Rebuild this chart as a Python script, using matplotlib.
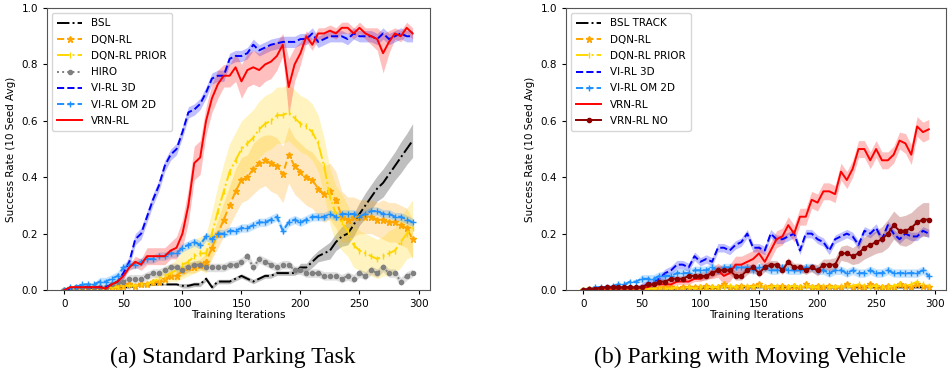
import matplotlib
matplotlib.use('Agg')
import matplotlib.pyplot as plt
import numpy as np

iters = np.arange(0, 300, 5)

# ---------------- (a) Standard Parking Task ----------------
a_bsl = [0.0, 0.005, 0.01, 0.01, 0.01, 0.005, 0.01, 0.01, 0.01, 0.01, 0.01, 0.01, 0.015, 0.015, 0.02, 0.02,
         0.02, 0.02, 0.02, 0.02, 0.015, 0.015, 0.02, 0.02, 0.04, 0.01, 0.03, 0.03, 0.03, 0.04,
         0.05, 0.04, 0.03, 0.04, 0.05, 0.05, 0.06, 0.06, 0.06, 0.06, 0.08, 0.08, 0.1, 0.12,
         0.13, 0.14, 0.17, 0.19, 0.2, 0.23, 0.27, 0.3, 0.33, 0.36, 0.38, 0.41, 0.44, 0.47, 0.5, 0.53]
a_bsl_sd = [0.003] * 20 + [0.008] * 20 + [0.015, 0.015, 0.02, 0.02, 0.025, 0.03, 0.03, 0.035, 0.04, 0.04,
                                          0.04, 0.045, 0.045, 0.045, 0.05, 0.05, 0.05, 0.055, 0.055, 0.06]
a_dqn = [0.0, 0.005, 0.005, 0.01, 0.01, 0.01, 0.01, 0.01, 0.015, 0.015, 0.015, 0.02, 0.015, 0.02, 0.02, 0.03,
         0.03, 0.04, 0.05, 0.05, 0.07, 0.08, 0.08, 0.09, 0.1, 0.15, 0.2, 0.25, 0.3, 0.35,
         0.39, 0.4, 0.43, 0.45, 0.46, 0.45, 0.44, 0.41, 0.48, 0.44, 0.42, 0.4, 0.39, 0.36,
         0.34, 0.35, 0.32, 0.26, 0.25, 0.26, 0.26, 0.26, 0.26, 0.25, 0.25, 0.24, 0.24, 0.23, 0.22, 0.18]
a_dqn_sd = [0.005] * 18 + [0.01, 0.015, 0.02, 0.02, 0.02, 0.02, 0.03, 0.04, 0.05, 0.06, 0.07, 0.08,
                           0.08, 0.08, 0.09, 0.09, 0.09, 0.1, 0.1, 0.1, 0.1, 0.1, 0.1, 0.1, 0.1, 0.1,
                           0.1, 0.1, 0.1, 0.09, 0.08, 0.07, 0.06, 0.06, 0.06, 0.06, 0.07, 0.07, 0.07, 0.07,
                           0.07, 0.07]
a_prior = [0.0, 0.005, 0.005, 0.005, 0.01, 0.01, 0.01, 0.01, 0.01, 0.01, 0.015, 0.015, 0.015, 0.02, 0.02, 0.03,
           0.04, 0.05, 0.06, 0.07, 0.09, 0.1, 0.12, 0.13, 0.13, 0.2, 0.28, 0.35, 0.42, 0.46,
           0.5, 0.52, 0.54, 0.57, 0.59, 0.6, 0.62, 0.62, 0.63, 0.61, 0.59, 0.58, 0.56, 0.52,
           0.44, 0.33, 0.27, 0.24, 0.21, 0.16, 0.14, 0.13, 0.12, 0.11, 0.12, 0.13, 0.14, 0.17, 0.2, 0.22]
a_prior_sd = [0.005] * 14 + [0.01, 0.015, 0.02, 0.03, 0.03, 0.04, 0.05, 0.05, 0.06, 0.06, 0.07, 0.08, 0.09,
                             0.1, 0.1, 0.1, 0.1, 0.1, 0.1, 0.1, 0.1, 0.1, 0.1, 0.1, 0.1, 0.1, 0.1, 0.1,
                             0.1, 0.1, 0.1, 0.1, 0.1, 0.1, 0.09, 0.08, 0.07, 0.07, 0.07, 0.07, 0.07, 0.08,
                             0.08, 0.09, 0.09, 0.1]
a_hiro = [0.0, 0.005, 0.01, 0.01, 0.01, 0.01, 0.01, 0.01, 0.02, 0.03, 0.03, 0.04, 0.04, 0.04, 0.05, 0.06,
          0.06, 0.07, 0.08, 0.08, 0.07, 0.08, 0.09, 0.09, 0.08, 0.08, 0.08, 0.08, 0.09, 0.09,
          0.1, 0.12, 0.08, 0.11, 0.1, 0.09, 0.08, 0.09, 0.09, 0.07, 0.07, 0.06, 0.06, 0.06,
          0.05, 0.05, 0.05, 0.04, 0.05, 0.04, 0.06, 0.05, 0.07, 0.06, 0.08, 0.06, 0.06, 0.03, 0.05, 0.06]
a_hiro_sd = [0.005] * 8 + [0.015] * 52
a_vi3d = [0.0, 0.005, 0.01, 0.01, 0.01, 0.01, 0.01, 0.01, 0.02, 0.03, 0.06, 0.1, 0.18, 0.2, 0.26, 0.32,
          0.37, 0.44, 0.48, 0.5, 0.56, 0.63, 0.64, 0.66, 0.7, 0.75, 0.76, 0.76, 0.82, 0.83,
          0.83, 0.84, 0.87, 0.85, 0.86, 0.87, 0.875, 0.88, 0.88, 0.88, 0.89, 0.89, 0.91, 0.88,
          0.89, 0.9, 0.9, 0.9, 0.89, 0.91, 0.9, 0.9, 0.9, 0.89, 0.91, 0.89, 0.9, 0.91, 0.9, 0.9]
a_vi3d_sd = [0.005] * 10 + [0.02] * 50
a_om2d = [0.0, 0.01, 0.01, 0.02, 0.02, 0.02, 0.03, 0.03, 0.04, 0.05, 0.08, 0.09, 0.09, 0.1, 0.11, 0.11,
          0.12, 0.12, 0.13, 0.13, 0.15, 0.16, 0.17, 0.16, 0.19, 0.18, 0.2, 0.2, 0.21, 0.21,
          0.22, 0.22, 0.23, 0.24, 0.24, 0.25, 0.26, 0.21, 0.24, 0.25, 0.24, 0.25, 0.26, 0.26,
          0.26, 0.27, 0.26, 0.27, 0.27, 0.27, 0.26, 0.27, 0.28, 0.28, 0.27, 0.27, 0.26, 0.26, 0.25, 0.24]
a_om2d_sd = [0.005] * 6 + [0.015] * 54
a_vrn = [0.0, 0.01, 0.01, 0.01, 0.01, 0.01, 0.01, 0.005, 0.02, 0.03, 0.05, 0.08, 0.1, 0.09, 0.12, 0.12,
         0.12, 0.12, 0.14, 0.15, 0.2, 0.3, 0.45, 0.47, 0.6, 0.68, 0.73, 0.76, 0.76, 0.79,
         0.74, 0.78, 0.79, 0.78, 0.8, 0.81, 0.83, 0.87, 0.72, 0.8, 0.84, 0.9, 0.87, 0.91,
         0.91, 0.92, 0.91, 0.93, 0.93, 0.91, 0.93, 0.91, 0.9, 0.89, 0.84, 0.88, 0.91, 0.9, 0.93, 0.91]
a_vrn_sd = [0.005] * 10 + [0.01, 0.01, 0.02, 0.02, 0.03, 0.03, 0.03, 0.03, 0.03, 0.04, 0.05, 0.06, 0.06,
                           0.06, 0.05, 0.05, 0.05, 0.04, 0.04, 0.05, 0.06, 0.06, 0.06, 0.06, 0.06, 0.06,
                           0.05, 0.04, 0.1, 0.06, 0.04, 0.02, 0.02, 0.02, 0.02, 0.02, 0.02, 0.02, 0.02,
                           0.02, 0.02, 0.02, 0.03, 0.04, 0.07, 0.04, 0.02, 0.02, 0.02, 0.02]

# ---------------- (b) Parking with Moving Vehicle ----------------
b_bsl = [0.0, 0.005, 0.005, 0.005, 0.005, 0.005, 0.005, 0.005, 0.005, 0.005, 0.005, 0.005, 0.005, 0.005, 0.005, 0.005,
         0.005, 0.005, 0.005, 0.005, 0.008, 0.008, 0.008, 0.01, 0.01, 0.01, 0.01, 0.01, 0.01, 0.01,
         0.01, 0.01, 0.01, 0.01, 0.01, 0.01, 0.01, 0.01, 0.01, 0.01, 0.01, 0.01, 0.01, 0.01,
         0.01, 0.01, 0.01, 0.01, 0.01, 0.01, 0.01, 0.01, 0.01, 0.01, 0.01, 0.01, 0.01, 0.01, 0.01, 0.01]
b_dqn = [0.0, 0.005, 0.005, 0.005, 0.005, 0.005, 0.005, 0.005, 0.005, 0.005, 0.005, 0.005, 0.005, 0.008, 0.01, 0.01,
         0.005, 0.01, 0.01, 0.01, 0.01, 0.015, 0.01, 0.01, 0.02, 0.01, 0.01, 0.015, 0.01, 0.015,
         0.02, 0.01, 0.015, 0.01, 0.015, 0.01, 0.015, 0.01, 0.02, 0.01, 0.015, 0.01, 0.015, 0.01,
         0.01, 0.02, 0.01, 0.015, 0.01, 0.02, 0.015, 0.01, 0.015, 0.01, 0.02, 0.015, 0.01, 0.02, 0.015, 0.01]
b_prior = [0.0, 0.005, 0.005, 0.005, 0.005, 0.005, 0.005, 0.005, 0.005, 0.005, 0.005, 0.005, 0.005, 0.005, 0.005, 0.005,
           0.01, 0.005, 0.01, 0.005, 0.01, 0.01, 0.01, 0.01, 0.01, 0.015, 0.01, 0.01, 0.015, 0.01,
           0.015, 0.01, 0.01, 0.015, 0.01, 0.01, 0.015, 0.01, 0.015, 0.01, 0.01, 0.015, 0.01, 0.01,
           0.015, 0.01, 0.015, 0.02, 0.015, 0.01, 0.015, 0.01, 0.01, 0.015, 0.02, 0.015, 0.02, 0.03, 0.02, 0.015]
b_vi3d = [0.0, 0.005, 0.005, 0.01, 0.01, 0.01, 0.01, 0.01, 0.01, 0.01, 0.01, 0.02, 0.03, 0.04, 0.06, 0.07,
          0.09, 0.09, 0.08, 0.12, 0.1, 0.11, 0.1, 0.15, 0.15, 0.14, 0.16, 0.17, 0.2, 0.15,
          0.15, 0.14, 0.2, 0.18, 0.18, 0.19, 0.2, 0.14, 0.2, 0.2, 0.18, 0.17, 0.14, 0.18,
          0.19, 0.2, 0.19, 0.16, 0.21, 0.2, 0.22, 0.18, 0.23, 0.2, 0.18, 0.2, 0.19, 0.19, 0.21, 0.2]
b_vi3d_sd = [0.003] * 10 + [0.015] * 50
b_om2d = [0.0, 0.005, 0.01, 0.01, 0.01, 0.015, 0.02, 0.02, 0.03, 0.03, 0.04, 0.04, 0.04, 0.05, 0.05, 0.05,
          0.06, 0.06, 0.06, 0.07, 0.07, 0.07, 0.08, 0.07, 0.08, 0.08, 0.08, 0.08, 0.08, 0.07,
          0.08, 0.08, 0.07, 0.07, 0.08, 0.07, 0.07, 0.07, 0.08, 0.08, 0.07, 0.07, 0.06, 0.07,
          0.07, 0.06, 0.07, 0.06, 0.06, 0.07, 0.06, 0.06, 0.07, 0.06, 0.06, 0.06, 0.06, 0.06, 0.07, 0.05]
b_vrn = [0.0, 0.003, 0.005, 0.005, 0.005, 0.005, 0.005, 0.005, 0.005, 0.005, 0.008, 0.01, 0.02, 0.02, 0.02, 0.02,
         0.03, 0.03, 0.03, 0.04, 0.04, 0.05, 0.06, 0.07, 0.05, 0.06, 0.09, 0.09, 0.1, 0.11,
         0.13, 0.1, 0.14, 0.18, 0.19, 0.23, 0.2, 0.26, 0.26, 0.32, 0.31, 0.35, 0.35, 0.34,
         0.42, 0.39, 0.43, 0.5, 0.5, 0.46, 0.5, 0.46, 0.46, 0.48, 0.53, 0.52, 0.48, 0.58, 0.56, 0.57]
b_vrn_sd = [0.003] * 12 + [0.01] * 10 + [0.02, 0.025, 0.03, 0.03, 0.03, 0.03, 0.03, 0.03, 0.03, 0.03,
                                         0.03, 0.03, 0.03, 0.03, 0.03, 0.03, 0.03, 0.03, 0.03, 0.03,
                                         0.03, 0.03, 0.03, 0.03, 0.03, 0.03, 0.03, 0.03, 0.03, 0.03,
                                         0.03, 0.03, 0.03, 0.035, 0.035, 0.035, 0.035, 0.035]
b_vrn_no = [0.0, 0.003, 0.005, 0.008, 0.01, 0.01, 0.01, 0.01, 0.01, 0.01, 0.01, 0.02, 0.02, 0.03, 0.03, 0.04,
            0.04, 0.04, 0.05, 0.05, 0.05, 0.05, 0.06, 0.07, 0.07, 0.07, 0.05, 0.05, 0.07, 0.08,
            0.06, 0.08, 0.09, 0.09, 0.07, 0.1, 0.08, 0.08, 0.07, 0.08, 0.07, 0.09, 0.09, 0.09,
            0.13, 0.13, 0.12, 0.13, 0.15, 0.16, 0.17, 0.18, 0.2, 0.23, 0.21, 0.21, 0.22, 0.24, 0.25, 0.25]
b_vrn_no_sd = [0.003] * 10 + [0.01] * 10 + [0.015] * 20 + [0.02, 0.02, 0.02, 0.025, 0.025, 0.03, 0.03, 0.035,
                                                            0.04, 0.04, 0.04, 0.045, 0.05, 0.05, 0.05, 0.055,
                                                            0.055, 0.055, 0.06, 0.06]

small_sd = [0.004] * 60

fig = plt.figure(figsize=(9.48, 3.7), dpi=100)
ax1 = fig.add_axes([0.0496, 0.2162, 0.4040, 0.7620])
ax2 = fig.add_axes([0.5970, 0.2162, 0.4010, 0.7620])


def curve(ax, y, sd, label, color, ls, marker=None, ms=4, mew=1.0):
    y = np.array(y)
    sd = np.array(sd)
    ax.plot(iters, y, color=color, linestyle=ls, marker=marker, markersize=ms,
            markeredgewidth=mew, linewidth=1.4, label=label)
    ax.fill_between(iters, y - sd, y + sd, color=color, alpha=0.25, linewidth=0)


curve(ax1, a_bsl, a_bsl_sd, 'BSL', 'black', '-.')
curve(ax1, a_dqn, a_dqn_sd, 'DQN-RL', 'orange', '--', '*', 5)
curve(ax1, a_prior, a_prior_sd, 'DQN-RL PRIOR', 'gold', '-.', '|', 5)
curve(ax1, a_hiro, a_hiro_sd, 'HIRO', 'gray', ':', 'o', 3)
curve(ax1, a_vi3d, a_vi3d_sd, 'VI-RL 3D', 'blue', '--')
curve(ax1, a_om2d, a_om2d_sd, 'VI-RL OM 2D', 'dodgerblue', '--', '+', 5)
curve(ax1, a_vrn, a_vrn_sd, 'VRN-RL', 'red', '-')

curve(ax2, b_bsl, small_sd, 'BSL TRACK', 'black', '-.')
curve(ax2, b_dqn, small_sd, 'DQN-RL', 'orange', '--', '*', 5)
curve(ax2, b_prior, small_sd, 'DQN-RL PRIOR', 'gold', '-.', '|', 5)
curve(ax2, b_vi3d, b_vi3d_sd, 'VI-RL 3D', 'blue', '--')
curve(ax2, b_om2d, b_vi3d_sd, 'VI-RL OM 2D', 'dodgerblue', '--', '+', 5)
curve(ax2, b_vrn, b_vrn_sd, 'VRN-RL', 'red', '-')
curve(ax2, b_vrn_no, b_vrn_no_sd, 'VRN-RL NO', 'darkred', '-', 'o', 3)

for ax in (ax1, ax2):
    ax.set_ylim(0, 1.0)
    ax.set_xticks([0, 50, 100, 150, 200, 250, 300])
    ax.set_yticks([0.0, 0.2, 0.4, 0.6, 0.8, 1.0])
    ax.tick_params(labelsize=7.5, length=3)
    ax.set_xlabel('Training Iterations', fontsize=7.5, labelpad=1)
    ax.set_ylabel('Success Rate (10 Seed Avg)', fontsize=7.5)
    for s in ax.spines.values():
        s.set_color('#555555')
    ax.legend(loc='upper left', fontsize=7.5, handlelength=2.4, labelspacing=0.6,
              borderpad=0.5, framealpha=0.8)

fig.text(0.246, 0.035, '(a) Standard Parking Task', ha='center', va='center',
         family='Liberation Serif', fontsize=17)
fig.text(0.791, 0.035, '(b) Parking with Moving Vehicle', ha='center', va='center',
         family='Liberation Serif', fontsize=17)

fig.savefig('out.png', dpi=100)
